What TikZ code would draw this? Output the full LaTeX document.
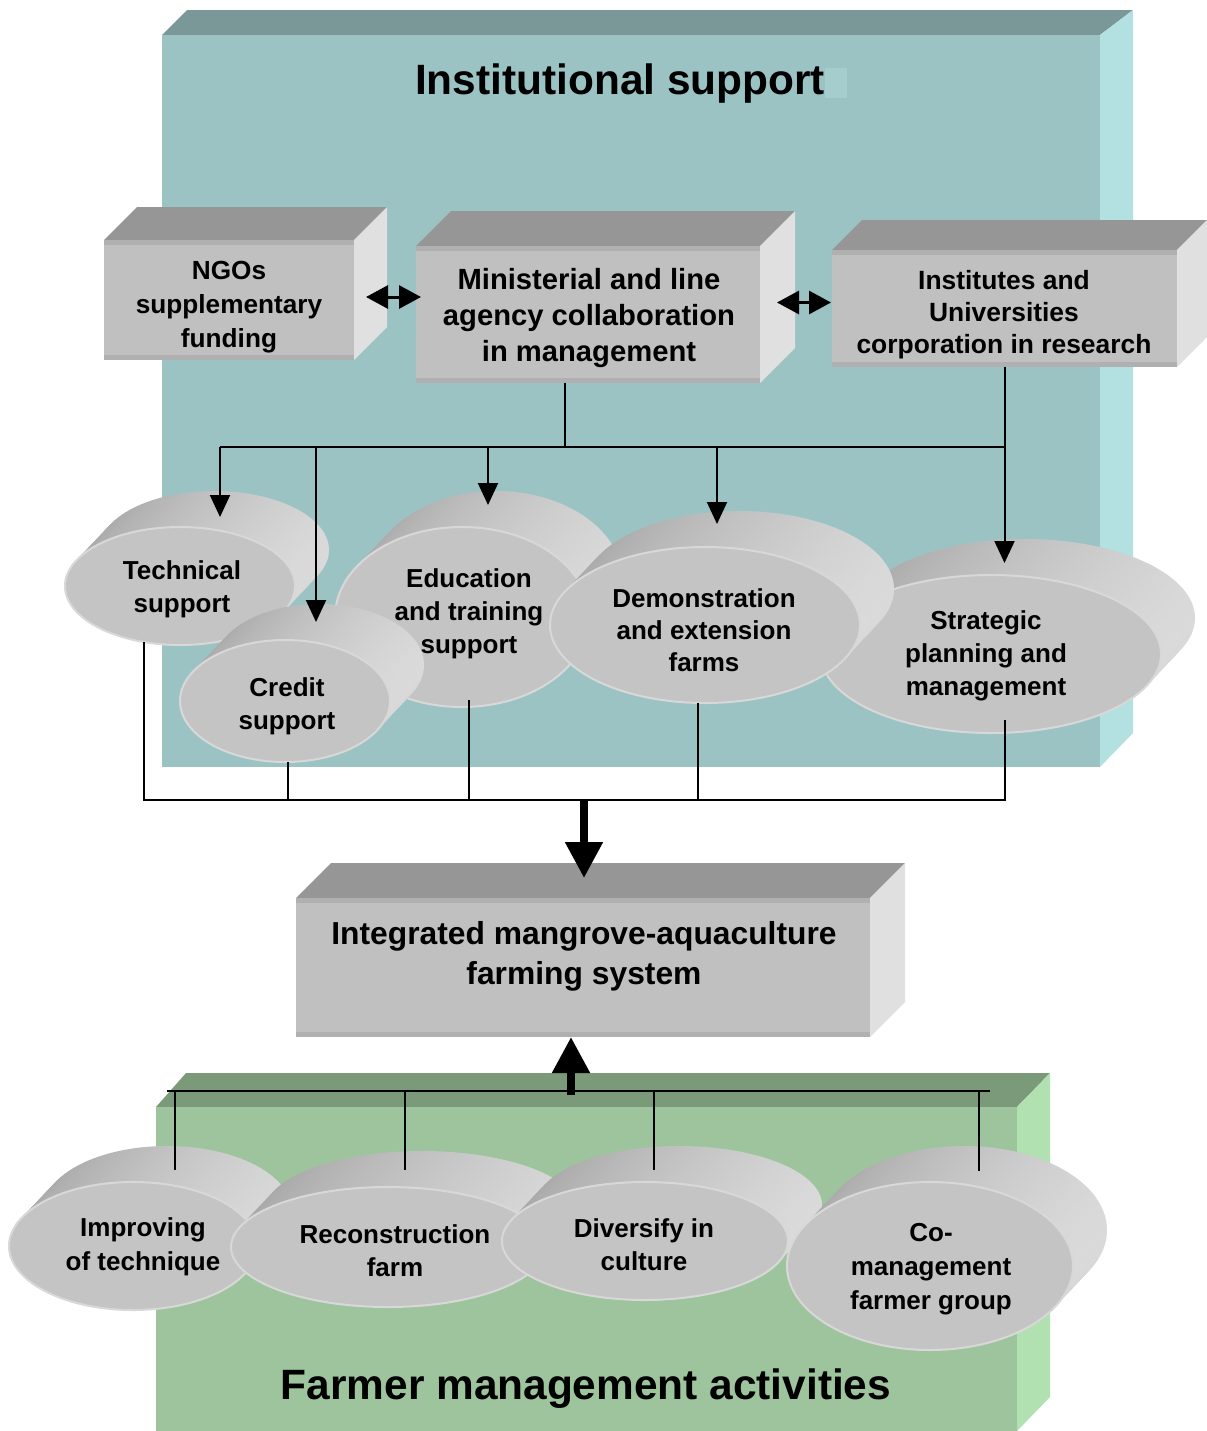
\documentclass[tikz,border=0pt]{standalone}
\usepackage{fontspec}
\setmainfont{Liberation Sans}
\usetikzlibrary{arrows.meta,calc,shapes.geometric}

\definecolor{bluefront}{HTML}{9CC3C3}
\definecolor{bluetop}{HTML}{7A9898}
\definecolor{blueside}{HTML}{B3E0E0}
\definecolor{blueart}{HTML}{A6CDCD}
\definecolor{greenfront}{HTML}{9DC49D}
\definecolor{greentop}{HTML}{7A9A7A}
\definecolor{greenside}{HTML}{B1E0B1}
\definecolor{boxfrontc}{HTML}{C0C0C0}
\definecolor{boxtopc}{HTML}{969696}
\definecolor{boxsidec}{HTML}{E0E0E0}
\definecolor{boxedgec}{HTML}{B0B0B0}
\definecolor{discfrontc}{HTML}{C4C4C4}
\definecolor{discrimc}{HTML}{D8D8D8}
\definecolor{discL}{HTML}{A8A8A8}
\definecolor{discM}{HTML}{9B9B9B}
\definecolor{discR}{HTML}{DADADA}

\newcommand\cubebox[6]{%
  \pgfmathsetmacro\cbw{(#4-#2)/2}\pgfmathsetmacro\cbh{(#5-#3)/2}%
  \fill[boxtopc] (#2,#3) -- ({#2+#6},{#3-#6}) -- ({#4+#6},{#3-#6}) -- (#4,#3) -- cycle;
  \fill[boxsidec] (#4,#3) -- ({#4+#6},{#3-#6}) -- ({#4+#6},{#5-#6}) -- (#4,#5) -- cycle;
  \node[boxfront, minimum width=\cbw pt, minimum height=\cbh pt] (#1) at ({(#2+#4)/2},{(#3+#5)/2}) {};
  \fill[boxedgec] (#1.north west) rectangle ([yshift=-2.5pt]#1.north east);
  \fill[boxedgec] (#1.south west) rectangle ([yshift=2.5pt]#1.south east);
}

\newcommand\discshape[5]{%
  \pgfmathsetmacro\drx{#4/2}\pgfmathsetmacro\dry{#5/2}%
  \foreach \k in {12,11,...,1}{%
    \shade[discside] ({#2+34*\k/12},{#3-36*\k/12}) ellipse [x radius=\drx pt, y radius=\dry pt];
  }%
  \node[discfront, minimum width=#4pt, minimum height=#5pt] (#1) at (#2,#3) {};
}

\begin{document}
\begin{tikzpicture}[x=0.5pt,y=-0.5pt,
  boxfront/.style={rectangle, fill=boxfrontc, draw=none, inner sep=0pt, outer sep=0pt},
  discfront/.style={ellipse, fill=discfrontc, draw=discrimc, line width=1pt, inner sep=0pt, outer sep=0pt},
  discside/.style={left color=discL, middle color=discM, right color=discR},
  lbl/.style={align=center, inner sep=0pt},
  disclbl/.style={lbl, font=\bfseries\fontsize{13}{16.5}\selectfont},
  arr/.style={line width=1pt, -{Triangle[width=10pt,length=11pt]}},
  darr/.style={line width=1.5pt, {Triangle[width=11.5pt,length=11pt]}-{Triangle[width=11.5pt,length=11pt]}},
  bigarr/.style={line width=4pt, -{Triangle[width=18pt,length=18pt]}},
  conn/.style={line width=1pt}]
\useasboundingbox (0,0) rectangle (1206,1431);

% ---------- institutional panel ----------
\fill[bluetop] (162,35) -- (187,10) -- (1133,10) -- (1100,35) -- cycle;
\fill[blueside] (1100,35) -- (1133,10) -- (1133,733) -- (1100,767) -- cycle;
\fill[bluefront] (162,35) rectangle (1100,767);
\fill[blueart] (825,68) rectangle (847,98);
\node[lbl, font=\bfseries\fontsize{21.2}{25}\selectfont] (ttl1) at (620,84) {Institutional support};

% ---------- upper boxes ----------
\cubebox{ngo}{104}{240}{354}{360}{33}
\cubebox{min}{416}{246}{760}{383}{35}
\cubebox{ins}{832}{250}{1177}{367}{30}
\node[lbl, font=\bfseries\fontsize{13.1}{17}\selectfont] (ngot) at (229,307) {NGOs\\supplementary\\funding};
\node[lbl, font=\bfseries\fontsize{14.6}{18}\selectfont] (mint) at (589,318) {Ministerial and line\\agency collaboration\\in management};
\node[lbl, font=\bfseries\fontsize{13.2}{16}\selectfont] (inst) at (1004,315) {Institutes and\\Universities\\corporation in research};

\coordinate (da1) at ($(ngo.east)+(12,-3)$);
\draw[darr] (da1) -- ($(da1 -| min.west)+(5,0)$);
\coordinate (da2) at ($(min.east)+(17,-12)$);
\draw[darr] (da2) -- ($(da2 -| ins.west)+(-1,0)$);

% ---------- upper discs ----------
\discshape{strat}{991}{654}{170}{79}
\discshape{edu}{462}{617}{127}{90}
\discshape{demo}{705}{625}{155}{78}
\discshape{tech}{180}{586}{115}{59}
\discshape{cred}{285}{701}{105}{61}

% ---------- upper connectors ----------
\coordinate (bt) at (565,447);
\coordinate (bL) at (220,447);
\coordinate (bR) at (ins.south |- bt);
\coordinate (b2) at (316,447);
\coordinate (b3) at (488,447);
\coordinate (b4) at (717,447);
\draw[conn] (bt |- min.south) -- (bt);
\draw[conn] (bL) -- (bR);
\draw[arr] (ins.south) -- ([yshift=6pt]strat.north -| ins.south);
\draw[arr] (bL) -- ([yshift=5pt]tech.north -| bL);
\draw[arr] (b2) -- ([yshift=9pt]cred.north -| b2);
\draw[arr] (b3) -- ([yshift=11pt]edu.north -| b3);
\draw[arr] (b4) -- ([yshift=11.5pt]demo.north -| b4);

\coordinate (c1) at (144,800);
\coordinate (c2) at (288,800);
\coordinate (c3) at (469,800);
\coordinate (c4) at (698,800);
\coordinate (c5) at (ins.south |- c1);
\draw[conn] ([yshift=1.5pt]tech.south -| c1) -- (c1) -- (c5) -- ([yshift=6.5pt]strat.south -| c5);
\draw[conn] (cred.south -| c2) -- (c2);
\draw[conn] ([yshift=3.5pt]edu.south -| c3) -- (c3);
\draw[conn] (demo.south -| c4) -- (c4);

% ---------- integrated system ----------
\cubebox{integ}{296}{898}{870}{1037}{35}
\node[lbl, font=\bfseries\fontsize{15.9}{20}\selectfont] (integt) at (584,956) {Integrated mangrove-aquaculture\\farming system};
\coordinate (dn) at (584,800);
\draw[bigarr] (dn) -- ([yshift=10pt]integ.north -| dn);

% ---------- farmer panel ----------
\fill[greentop] (156,1107) -- (186,1073) -- (1050,1073) -- (1017,1107) -- cycle;
\fill[greenside] (1017,1107) -- (1050,1073) -- (1050,1397) -- (1017,1431) -- cycle;
\fill[greenfront] (156,1107) rectangle (1017,1431);
\node[lbl, font=\bfseries\fontsize{21.2}{25}\selectfont] (ttl2) at (586,1389) {Farmer management activities};

\coordinate (gL) at (167,1091);
\coordinate (gR) at (990,1091);
\coordinate (up) at (571,1095);
\draw[bigarr] (up) -- (integ.south -| up);

\discshape{impr}{133}{1246}{124}{64}
\discshape{reco}{388}{1247}{157}{60}
\discshape{dive}{645}{1241}{143}{59}
\discshape{coma}{930}{1266}{143}{84}

\coordinate (g1) at (175,1091);
\coordinate (g2) at (405,1091);
\coordinate (g3) at (654,1091);
\coordinate (g4) at (979,1091);
\draw[conn] (gL) -- (gR);
\draw[conn] (g1) -- ([yshift=6pt]impr.north -| g1);
\draw[conn] (g2) -- ([yshift=8.5pt]reco.north -| g2);
\draw[conn] (g3) -- ([yshift=6pt]dive.north -| g3);
\draw[conn] (g4) -- ([yshift=5.5pt]coma.north -| g4);

% ---------- disc labels ----------
\node[disclbl] (techt) at (182,589) {Technical\\support};
\node[disclbl] (credt) at (287,706) {Credit\\support};
\node[disclbl] (edut) at (469,614) {Education\\and training\\support};
\node[disclbl, font=\bfseries\fontsize{13}{16}\selectfont] (demot) at (704,630) {Demonstration\\and extension\\farms};
\node[disclbl] (stratt) at (986,656) {Strategic\\planning and\\management};
\node[disclbl, font=\bfseries\fontsize{13}{17}\selectfont] (imprt) at (143,1247) {Improving\\of technique};
\node[disclbl] (recot) at (395,1251) {Reconstruction\\farm};
\node[disclbl] (divet) at (644,1245) {Diversify in\\culture};
\node[disclbl, font=\bfseries\fontsize{13}{17}\selectfont] (comat) at (931,1269) {Co-\\management\\farmer group};
\end{tikzpicture}
\end{document}
